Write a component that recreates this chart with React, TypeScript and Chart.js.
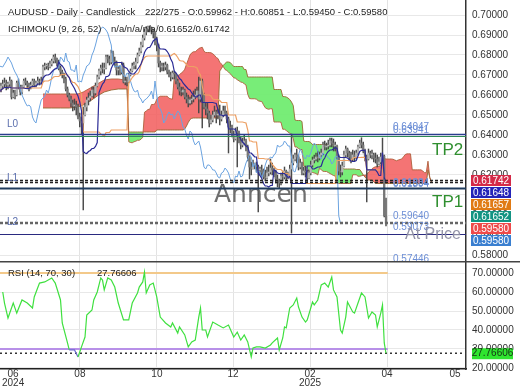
import React, { useEffect, useRef } from 'react';
import { Chart, registerables } from 'chart.js';
Chart.register(...registerables);

// ---------------- data ----------------
const firstOpen = 0.6645;
const closes = [
  0.6630, 0.6645, 0.6655, 0.6660, 0.6650, 0.6655, 0.6670, 0.6590, 0.6610, 0.6600,
  0.6660, 0.6640, 0.6615, 0.6640, 0.6670, 0.6660, 0.6650, 0.6640, 0.6650, 0.6670,
  0.6650, 0.6660, 0.6670, 0.6665, 0.6670, 0.6740, 0.6745, 0.6745, 0.6740, 0.6755,
  0.6770, 0.6790, 0.6775, 0.6760, 0.6735, 0.6715, 0.6700, 0.6680, 0.6630, 0.6600,
  0.6580, 0.6560, 0.6545, 0.6550, 0.6540, 0.6490, 0.6470, 0.6460, 0.6500, 0.6540,
  0.6575, 0.6585, 0.6595, 0.6625, 0.6610, 0.6645, 0.6690, 0.6720, 0.6735, 0.6730,
  0.6735, 0.6790, 0.6780, 0.6765, 0.6810, 0.6770, 0.6765, 0.6725, 0.6725, 0.6715,
  0.6750, 0.6665, 0.6670, 0.6665, 0.6700, 0.6720, 0.6745, 0.6750, 0.6765, 0.6800,
  0.6820, 0.6850, 0.6885, 0.6915, 0.6930, 0.6940, 0.6935, 0.6925, 0.6910, 0.6880,
  0.6850, 0.6760, 0.6740, 0.6745, 0.6740, 0.6750, 0.6715, 0.6700, 0.6690, 0.6710,
  0.6705, 0.6670, 0.6640, 0.6620, 0.6615, 0.6625, 0.6590, 0.6580, 0.6560, 0.6575,
  0.6580, 0.6590, 0.6600, 0.6620, 0.6580, 0.6670, 0.6600, 0.6540, 0.6530, 0.6510,
  0.6460, 0.6475, 0.6500, 0.6515, 0.6500, 0.6505, 0.6480, 0.6500, 0.6520, 0.6510,
  0.6480, 0.6440, 0.6430, 0.6400, 0.6380, 0.6420, 0.6410, 0.6370, 0.6350, 0.6360,
  0.6370, 0.6340, 0.6290, 0.6240, 0.6230, 0.6250, 0.6250, 0.6240, 0.6225, 0.6225,
  0.6210, 0.6190, 0.6185, 0.6210, 0.6215, 0.6235, 0.6225, 0.6210, 0.6180, 0.6170,
  0.6160, 0.6195, 0.6190, 0.6220, 0.6190, 0.6195, 0.6230, 0.6260, 0.6280, 0.6300,
  0.6290, 0.6240, 0.6260, 0.6210, 0.6220, 0.6215, 0.6185, 0.6210, 0.6250, 0.6275,
  0.6280, 0.6290, 0.6285, 0.6300, 0.6310, 0.6350, 0.6340, 0.6345, 0.6350, 0.6370,
  0.6360, 0.6345, 0.6345, 0.6290, 0.6220, 0.6215, 0.6245, 0.6300, 0.6330, 0.6310,
  0.6290, 0.6280, 0.6300, 0.6290, 0.6310, 0.6340, 0.6360, 0.6350, 0.6320, 0.6290,
  0.6280, 0.6310, 0.6300, 0.6300, 0.6285, 0.6280, 0.6255, 0.6265, 0.6290, 0.6295,
  0.59962, 0.5958,
];
const highs = [
  0.6650, 0.6660, 0.6675, 0.6685, 0.6675, 0.6665, 0.6690, 0.6675, 0.6625, 0.6625,
  0.6670, 0.6680, 0.6650, 0.6650, 0.6680, 0.6685, 0.6670, 0.6660, 0.6665, 0.6680,
  0.6680, 0.6670, 0.6690, 0.6680, 0.6690, 0.6750, 0.6760, 0.6755, 0.6760, 0.6770,
  0.6780, 0.6800, 0.6805, 0.6785, 0.6775, 0.6745, 0.6725, 0.6710, 0.6690, 0.6640,
  0.6610, 0.6595, 0.6575, 0.6580, 0.6570, 0.6555, 0.6510, 0.6490, 0.6540, 0.6560,
  0.6590, 0.6610, 0.6620, 0.6640, 0.6640, 0.6660, 0.6700, 0.6730, 0.6750, 0.6760,
  0.6760, 0.6800, 0.6800, 0.6795, 0.6825, 0.6820, 0.6790, 0.6770, 0.6745, 0.6745,
  0.6765, 0.6760, 0.6690, 0.6690, 0.6710, 0.6730, 0.6760, 0.6765, 0.6785, 0.6810,
  0.6835, 0.6865, 0.6900, 0.6930, 0.6942, 0.6945, 0.6944, 0.6940, 0.6930, 0.6915,
  0.6890, 0.6855, 0.6770, 0.6760, 0.6760, 0.6765, 0.6755, 0.6725, 0.6715, 0.6720,
  0.6720, 0.6710, 0.6680, 0.6660, 0.6640, 0.6640, 0.6630, 0.6610, 0.6600, 0.6590,
  0.6600, 0.6620, 0.6630, 0.6640, 0.6690, 0.6685, 0.6680, 0.6610, 0.6560, 0.6560,
  0.6520, 0.6500, 0.6520, 0.6545, 0.6525, 0.6530, 0.6550, 0.6520, 0.6545, 0.6545,
  0.6520, 0.6490, 0.6470, 0.6450, 0.6420, 0.6435, 0.6440, 0.6420, 0.6390, 0.6385,
  0.6400, 0.6380, 0.6350, 0.6300, 0.6265, 0.6275, 0.6260, 0.6265, 0.6250, 0.6240,
  0.6250, 0.6230, 0.6225, 0.6240, 0.6250, 0.6280, 0.6260, 0.6235, 0.6225, 0.6200,
  0.6180, 0.6210, 0.6220, 0.6240, 0.6225, 0.6215, 0.6250, 0.6405, 0.6300, 0.6310,
  0.6330, 0.6300, 0.6280, 0.6265, 0.6240, 0.6245, 0.6225, 0.6225, 0.6270, 0.6290,
  0.6300, 0.6310, 0.6320, 0.6315, 0.6330, 0.6365, 0.6370, 0.6360, 0.6375, 0.6385,
  0.6385, 0.6380, 0.6365, 0.6350, 0.6300, 0.6250, 0.6265, 0.6320, 0.6345, 0.6335,
  0.6320, 0.6315, 0.6325, 0.6320, 0.6325, 0.6350, 0.6375, 0.63864, 0.6365, 0.6330,
  0.6300, 0.6330, 0.6320, 0.6325, 0.6310, 0.6310, 0.6300, 0.6290, 0.6310, 0.63846,
  0.6300, 0.60851,
];
const lows = [
  0.6590, 0.6615, 0.6630, 0.6640, 0.6625, 0.6630, 0.6645, 0.6580, 0.6585, 0.6580,
  0.6595, 0.6630, 0.6600, 0.6605, 0.6635, 0.6650, 0.6630, 0.6620, 0.6630, 0.6640,
  0.6640, 0.6640, 0.6650, 0.6650, 0.6655, 0.6665, 0.6725, 0.6730, 0.6725, 0.6735,
  0.6745, 0.6760, 0.6760, 0.6745, 0.6725, 0.6700, 0.6685, 0.6660, 0.6620, 0.6590,
  0.6570, 0.6540, 0.6520, 0.6525, 0.6500, 0.6480, 0.6440, 0.6400, 0.6025, 0.6495,
  0.6520, 0.6550, 0.6570, 0.6590, 0.6585, 0.6600, 0.6640, 0.6680, 0.6700, 0.6710,
  0.6705, 0.6730, 0.6760, 0.6750, 0.6755, 0.6760, 0.6740, 0.6700, 0.6700, 0.6700,
  0.6705, 0.6660, 0.6650, 0.6645, 0.6660, 0.6695, 0.6715, 0.6730, 0.6730, 0.6760,
  0.6795, 0.6810, 0.6840, 0.6875, 0.6900, 0.6915, 0.6915, 0.6905, 0.6885, 0.6850,
  0.6820, 0.6740, 0.6715, 0.6720, 0.6720, 0.6725, 0.6705, 0.6690, 0.6670, 0.6680,
  0.6680, 0.6655, 0.6630, 0.6600, 0.6595, 0.6600, 0.6580, 0.6560, 0.6540, 0.6550,
  0.6555, 0.6565, 0.6580, 0.6590, 0.6510, 0.6565, 0.6435, 0.6530, 0.6500, 0.6480,
  0.6440, 0.6455, 0.6465, 0.6490, 0.6460, 0.6480, 0.6450, 0.6470, 0.6490, 0.6495,
  0.6460, 0.6310, 0.6410, 0.6390, 0.6365, 0.6375, 0.6240, 0.6360, 0.6330, 0.6340,
  0.6350, 0.6320, 0.6270, 0.6180, 0.6200, 0.6230, 0.6230, 0.6215, 0.6015, 0.6200,
  0.6190, 0.6180, 0.6170, 0.6180, 0.6195, 0.6205, 0.6200, 0.6190, 0.6160, 0.6140,
  0.6135, 0.6150, 0.6170, 0.6180, 0.6175, 0.6180, 0.6190, 0.5910, 0.6250, 0.6270,
  0.6260, 0.6225, 0.6230, 0.6200, 0.6200, 0.6190, 0.6160, 0.6180, 0.6200, 0.6240,
  0.6260, 0.6270, 0.6265, 0.6275, 0.6290, 0.6300, 0.6325, 0.6325, 0.6330, 0.6340,
  0.6340, 0.6320, 0.6320, 0.6280, 0.6200, 0.6190, 0.6200, 0.6240, 0.6290, 0.6290,
  0.6270, 0.6260, 0.6270, 0.6270, 0.6280, 0.6300, 0.6335, 0.6335, 0.6310, 0.6270,
  0.6065, 0.6275, 0.6285, 0.6280, 0.6265, 0.6260, 0.6240, 0.6250, 0.6255, 0.6270,
  0.5990, 0.5945,
];

// Ichimoku cloud before the in-window look-back is complete
const cloudLeftIdx = [25, 30, 35, 40, 45, 48, 52, 56, 60, 64, 68, 72, 73];
const spanALeft = [0.6605, 0.6605, 0.6605, 0.6605, 0.6605, 0.6615, 0.6635, 0.6655, 0.6675, 0.6680, 0.6680, 0.6675, 0.6675];
const spanBLeft = [0.6535, 0.6535, 0.6535, 0.6535, 0.6540, 0.6550, 0.6570, 0.6595, 0.6615, 0.6625, 0.6630, 0.6630, 0.6630];

// RSI(14) (bar index, value)
const rsiIdx = [2, 3, 5, 8, 10, 13, 16, 19, 20, 23, 26, 30, 32, 35, 36, 39, 40, 43, 45, 47, 49, 50, 53, 54, 56, 58, 59, 60, 62, 64, 66, 68, 71, 74, 76, 79, 80, 82, 83, 84, 86, 88, 90, 92, 95, 98, 99, 102, 103, 106, 108, 110, 112, 114, 115, 116, 118, 119, 122, 125, 128, 131, 134, 136, 138, 140, 142, 144, 145, 147, 149, 152, 155, 156, 159, 160, 162, 163, 164, 166, 168, 170, 171, 173, 175, 176, 179, 180, 182, 184, 186, 188, 190, 191, 193, 195, 196, 198, 199, 202, 203, 205, 207, 209, 211, 213, 215, 216, 218, 219, 220, 221];
const rsiVals = [60.0, 54.2, 46.3, 54.2, 48.9, 55.8, 54.2, 51.6, 57.4, 64.7, 65.3, 67.4, 64.7, 55.8, 43.7, 33.2, 29.5, 29.5, 25.8, 31.1, 36.3, 47.9, 50.5, 55.8, 60.0, 67.4, 66.3, 61.1, 67.4, 66.3, 62.6, 54.2, 45.3, 45.3, 54.2, 59.5, 62.6, 65.3, 70.5, 59.5, 63.7, 64.7, 57.4, 46.8, 43.7, 41.6, 43.7, 38.4, 41.6, 37.4, 31.1, 33.7, 34.7, 46.8, 51.6, 40.0, 40.0, 36.3, 44.2, 42.6, 41.1, 42.6, 36.3, 38.9, 34.7, 37.4, 33.7, 25.8, 30.5, 31.1, 31.1, 30.5, 32.1, 33.2, 35.8, 29.5, 35.8, 41.6, 41.1, 51.6, 53.2, 56.8, 52.1, 46.8, 44.2, 45.3, 54.7, 53.2, 55.8, 63.7, 64.7, 62.6, 67.9, 61.1, 57.4, 40.0, 38.4, 46.8, 54.7, 49.5, 48.9, 54.2, 59.5, 57.4, 46.3, 49.5, 47.9, 41.6, 48.9, 53.2, 33.2, 27.76606];

const monthTickIdx = [7.9, 46.1, 90.1, 133.6, 177.6, 221.6, 260.4];
const monthTickLabels: any[] = [['06', '2024'], '08', '10', '12', ['02', '2025'], '04', '05'];
const priceTicks = [0.58, 0.59, 0.60, 0.61, 0.62, 0.63, 0.64, 0.65, 0.66, 0.67, 0.68, 0.69, 0.70];
const rsiTicks = [20, 30, 40, 50, 60, 70];

const levelValues = [0.64047, 0.63941, 0.61742, 0.61648, 0.61335, 0.59640, 0.59580, 0.59073];
const levelTexts = ['0.64047', '0.63941', '0.61834', '0.61894', '0.59640', '0.59073', '0.57446'];
const boxTexts = ['0.61742', '0.61648', '0.61657', '0.61652', '0.59580', '0.59580'];
const rsiLast = '27.76606';

// ---------------- styles ----------------
const FONT = '"Liberation Sans", Arial, sans-serif';
const levelStyles = [
  { color: '#2b3c8e', width: 1.5, dash: [] },
  { color: '#2f8a55', width: 1.2, dash: [] },
  { color: '#222222', width: 1.5, dash: [3, 2] },
  { color: '#222222', width: 1.5, dash: [3, 2] },
  { color: '#1e3a5c', width: 2, dash: [] },
  { color: '#666666', width: 1.5, dash: [3, 2] },
  { color: '#666666', width: 1.5, dash: [3, 2] },
  { color: '#2a2a80', width: 1.2, dash: [] },
];
const levelTextPos = [[393, 127], [393, 130.5], [393, 183], [393, 184.5], [393, 216], [393, 227.5], [393, 259]];
const boxColors = ['#d42a48', '#2424b8', '#e07a14', '#139483', '#ef4a4a', '#3a7fd0'];
const boxY = [180.5, 192.5, 204.5, 216.5, 228.5, 240.5];
const CLOUD_UP = 'rgba(242,92,92,0.85)';   // span A above span B
const CLOUD_DOWN = 'rgba(108,236,108,0.92)'; // span B above span A

const PX_PER_BAR = 1.75;
const PLOT_W = 466;
const X_MIN = 0.43;
const X_MAX = X_MIN + PLOT_W / PX_PER_BAR;

function midRange(from: number, to: number) {
  let hi = -Infinity, lo = Infinity;
  for (let k = Math.max(0, from); k <= to; k++) {
    if (highs[k] > hi) hi = highs[k];
    if (lows[k] < lo) lo = lows[k];
  }
  return (hi + lo) / 2;
}

function gridColorX(ctx: any) {
  const v = ctx.tick ? ctx.tick.value : 0;
  return v < 20 || v > 250 ? 'rgba(0,0,0,0)' : '#e3e3e3';
}
function noPadY(ax: any) {
  ax.width = 54;
  ax.paddingTop = 0;
  ax.paddingBottom = 0;
}

export default function App() {
  const priceRef = useRef<HTMLCanvasElement>(null);
  const rsiRef = useRef<HTMLCanvasElement>(null);

  useEffect(() => {
    Chart.defaults.font.family = FONT;
    const N = closes.length;
    const opens = closes.map((c, i) => (i === 0 ? firstOpen : closes[i - 1]));
    const tenkan = closes.map((_, i) => midRange(i - 8, i));
    const kijun = closes.map((_, i) => midRange(i - 25, i));

    const spanA: any[] = cloudLeftIdx.map((x, k) => ({ x, y: spanALeft[k] }));
    const spanB: any[] = cloudLeftIdx.map((x, k) => ({ x, y: spanBLeft[k] }));
    for (let i = 74; i <= N - 1 + 26; i++) {
      spanA.push({ x: i, y: (tenkan[i - 26] + kijun[i - 26]) / 2 });
      spanB.push({ x: i, y: midRange(i - 77, i - 26) });
    }
    const wicks = closes.map((_, i) => ({ x: i, y: [lows[i], highs[i]] }));
    const bodies = closes.map((c, i) => ({ x: i, y: [opens[i], c] }));
    const bodyColors = closes.map((c, i) => (c >= opens[i] ? '#b4b4b4' : '#767676'));
    const chikou = closes.slice(26).map((c, k) => ({ x: k, y: c }));
    const tenkanPts = tenkan.map((y, i) => ({ x: i, y }));
    const kijunPts = kijun.map((y, i) => ({ x: i, y }));

    const cloudPlugin = {
      id: 'cloud',
      beforeDatasetsDraw(chart: any) {
        const { ctx, chartArea, scales } = chart;
        const xs = scales.x, ys = scales.y;
        ctx.save();
        ctx.beginPath();
        ctx.rect(chartArea.left, chartArea.top, chartArea.right - chartArea.left, chartArea.bottom - chartArea.top);
        ctx.clip();
        const P = spanA.map((p: any, k: number) => ({
          x: xs.getPixelForValue(p.x), a: ys.getPixelForValue(p.y), b: ys.getPixelForValue(spanB[k].y), d: p.y - spanB[k].y,
        }));
        const flush = (run: any[], up: boolean) => {
          if (run.length < 2) return;
          ctx.beginPath();
          ctx.moveTo(run[0].x, run[0].a);
          for (let k = 1; k < run.length; k++) ctx.lineTo(run[k].x, run[k].a);
          for (let k = run.length - 1; k >= 0; k--) ctx.lineTo(run[k].x, run[k].b);
          ctx.closePath();
          ctx.fillStyle = up ? CLOUD_UP : CLOUD_DOWN;
          ctx.fill();
        };
        let run: any[] = [P[0]];
        let up = P[0].d >= 0;
        for (let k = 1; k < P.length; k++) {
          const p = P[k];
          const pu = p.d >= 0;
          if (pu === up || p.d === 0) {
            run.push(p);
          } else {
            const q = P[k - 1];
            const t = q.d / (q.d - p.d);
            const m = { x: q.x + t * (p.x - q.x), a: q.a + t * (p.a - q.a), b: q.a + t * (p.a - q.a), d: 0 };
            run.push(m);
            flush(run, up);
            run = [m, p];
            up = pu;
          }
        }
        flush(run, up);
        ctx.restore();
      },
    };

    const priceOverlay = {
      id: 'priceOverlay',
      afterDatasetsDraw(chart: any) {
        const { ctx, chartArea, scales } = chart;
        const y = scales.y;
        ctx.save();
        ctx.beginPath();
        ctx.rect(chartArea.left, chartArea.top, chartArea.right - chartArea.left, chartArea.bottom - chartArea.top);
        ctx.clip();
        ctx.font = '25px "DejaVu Sans", sans-serif';
        ctx.fillStyle = 'rgba(95,95,95,0.9)';
        ctx.textBaseline = 'alphabetic';
        ctx.textAlign = 'left';
        ctx.fillText('Anncen', 214, 202);
        levelValues.forEach((v, k) => {
          const st = levelStyles[k];
          const py = Math.round(y.getPixelForValue(v)) + 0.5;
          ctx.beginPath();
          ctx.setLineDash(st.dash);
          ctx.strokeStyle = st.color;
          ctx.lineWidth = st.width;
          ctx.moveTo(chartArea.left, py);
          ctx.lineTo(chartArea.right, py);
          ctx.stroke();
        });
        ctx.setLineDash([]);
        ctx.textBaseline = 'middle';
        ctx.font = '10px ' + FONT;
        ctx.fillStyle = '#6d8fd6';
        levelTexts.forEach((t, k) => ctx.fillText(t, levelTextPos[k][0], levelTextPos[k][1]));
        ctx.fillStyle = '#5b6fae';
        ctx.fillText('L0', 7, 124);
        ctx.fillText('L1', 7, 178.5);
        ctx.fillText('L2', 7, 222.5);
        ctx.font = '17px ' + FONT;
        ctx.fillStyle = '#2f8f2f';
        ctx.fillText('TP2', 432, 150);
        ctx.fillText('TP1', 432, 202);
        ctx.font = '16px ' + FONT;
        ctx.fillStyle = 'rgba(140,140,162,0.95)';
        ctx.fillText('At Price', 405, 235);
        ctx.restore();
      },
      afterDraw(chart: any) {
        const { ctx } = chart;
        ctx.save();
        ctx.textBaseline = 'middle';
        ctx.textAlign = 'left';
        ctx.fillStyle = '#222';
        ctx.font = '9.5px ' + FONT;
        ctx.fillText('AUDUSD - Daily - Candlestick', 8, 12.5);
        ctx.fillText('222/275 - O:0.59962 - H:0.60851 - L:0.59450 - C:0.59580', 145, 12.5);
        ctx.fillText('ICHIMOKU (9, 26, 52)', 8, 29.5);
        ctx.fillText('n/a/n/a/n/a/0.61652/0.61742', 111, 29.5);
        ctx.font = '10px ' + FONT;
        boxTexts.forEach((t, k) => {
          ctx.fillStyle = boxColors[k];
          ctx.fillRect(471, boxY[k] - 5.5, 40, 11);
          ctx.fillStyle = '#ffffff';
          ctx.textAlign = 'center';
          ctx.fillText(t, 491, boxY[k] + 0.5);
        });
        ctx.restore();
      },
    };

    const priceChart = new Chart(priceRef.current as any, {
      type: 'bar',
      data: {
        datasets: [
          { type: 'line', data: spanA, borderColor: 'rgba(175,95,60,0.9)', borderWidth: 1, pointRadius: 0, fill: false, order: 10 } as any,
          { type: 'line', data: spanB, borderColor: 'rgba(150,105,50,0.9)', borderWidth: 1, pointRadius: 0, fill: false, order: 11 } as any,
          { type: 'bar', data: wicks, backgroundColor: '#4a4a4a', barThickness: 0.8, grouped: false, order: 5 } as any,
          { type: 'bar', data: bodies, backgroundColor: bodyColors, barThickness: 1.6, grouped: false, minBarLength: 1, order: 4 } as any,
          { type: 'line', data: chikou, borderColor: '#6ba3e0', borderWidth: 1, pointRadius: 0, fill: false, order: 3 } as any,
          { type: 'line', data: kijunPts, borderColor: '#eda064', borderWidth: 1.2, pointRadius: 0, fill: false, order: 2 } as any,
          { type: 'line', data: tenkanPts, borderColor: '#2c2c96', borderWidth: 1.2, pointRadius: 0, fill: false, order: 1 } as any,
        ],
      },
      options: {
        animation: false,
        responsive: false,
        maintainAspectRatio: false,
        devicePixelRatio: 1,
        events: [],
        layout: { padding: 0 },
        plugins: { legend: { display: false }, tooltip: { enabled: false } },
        scales: {
          x: {
            type: 'linear', min: X_MIN, max: X_MAX, offset: false,
            afterBuildTicks: (ax: any) => { ax.ticks = monthTickIdx.map((v) => ({ value: v })); },
            afterFit: (ax: any) => { ax.height = 0; ax.paddingLeft = 0; ax.paddingRight = 0; },
            ticks: { display: false },
            grid: { color: gridColorX, drawTicks: false, offset: false },
            border: { display: false },
          },
          y: {
            position: 'right', min: 0.577, max: 0.7075,
            afterBuildTicks: (ax: any) => { ax.ticks = priceTicks.map((v) => ({ value: v })); },
            afterFit: noPadY,
            ticks: { callback: (v: any) => Number(v).toFixed(5), padding: 6, color: '#333', font: { size: 10 } },
            grid: { color: '#e8e8e8', drawTicks: false },
            border: { display: true, color: '#333', width: 1.5 },
          },
        },
      } as any,
      plugins: [cloudPlugin, priceOverlay],
    });

    const rsiOverlay = {
      id: 'rsiOverlay',
      beforeDatasetsDraw(chart: any) {
        const { ctx, chartArea, scales } = chart;
        const x = scales.x, y = scales.y;
        const xe = x.getPixelForValue(222);
        ctx.save();
        ctx.lineWidth = 2;
        ctx.strokeStyle = '#f3c98a';
        ctx.beginPath();
        ctx.moveTo(chartArea.left, y.getPixelForValue(70));
        ctx.lineTo(xe, y.getPixelForValue(70));
        ctx.stroke();
        ctx.strokeStyle = '#b890e8';
        ctx.beginPath();
        ctx.moveTo(chartArea.left, y.getPixelForValue(30));
        ctx.lineTo(xe, y.getPixelForValue(30));
        ctx.stroke();
        ctx.setLineDash([2, 3]);
        ctx.lineWidth = 1.5;
        ctx.strokeStyle = '#333';
        const yl = y.getPixelForValue(27.76606);
        ctx.beginPath();
        ctx.moveTo(chartArea.left, yl);
        ctx.lineTo(chartArea.right, yl);
        ctx.stroke();
        ctx.restore();
      },
      afterDraw(chart: any) {
        const { ctx, scales } = chart;
        const y = scales.y;
        ctx.save();
        ctx.strokeStyle = '#444';
        ctx.lineWidth = 1.5;
        ctx.beginPath();
        ctx.moveTo(0, 0.75);
        ctx.lineTo(520, 0.75);
        ctx.stroke();
        ctx.textBaseline = 'middle';
        ctx.textAlign = 'left';
        ctx.fillStyle = '#222';
        ctx.font = '9.5px ' + FONT;
        ctx.fillText('RSI (14, 70, 30)', 8, 12);
        ctx.fillText(rsiLast, 97, 12);
        const yl = y.getPixelForValue(27.76606);
        ctx.fillStyle = '#2fe52f';
        ctx.fillRect(472, yl - 5, 41, 11);
        ctx.fillStyle = '#143014';
        ctx.font = '10px ' + FONT;
        ctx.textAlign = 'center';
        ctx.fillText(rsiLast, 492.5, yl + 0.5);
        ctx.restore();
      },
    };

    const rsiChart = new Chart(rsiRef.current as any, {
      type: 'line',
      data: {
        datasets: [
          {
            data: rsiIdx.map((x, k) => ({ x, y: rsiVals[k] })),
            borderColor: '#3fe03f',
            borderWidth: 1.2,
            pointRadius: 0,
            fill: false,
            segment: {
              borderColor: (c: any) => (c.p0.parsed.y < 30 && c.p1.parsed.y < 30 ? '#6b6bd0' : undefined),
            },
          } as any,
        ],
      },
      options: {
        animation: false,
        responsive: false,
        maintainAspectRatio: false,
        devicePixelRatio: 1,
        events: [],
        layout: { padding: 0 },
        plugins: { legend: { display: false }, tooltip: { enabled: false } },
        scales: {
          x: {
            type: 'linear', min: X_MIN, max: X_MAX, offset: false,
            afterBuildTicks: (ax: any) => { ax.ticks = monthTickIdx.map((v) => ({ value: v })); },
            afterFit: (ax: any) => { ax.height = 21; ax.paddingLeft = 0; ax.paddingRight = 0; },
            ticks: {
              autoSkip: false, maxRotation: 0, padding: 1, color: '#333',
              font: { size: 10, lineHeight: 0.85 },
              callback: (_v: any, idx: number) => monthTickLabels[idx],
            },
            grid: { color: gridColorX, drawTicks: false, offset: false },
            border: { display: true, color: '#222', width: 1.5 },
          },
          y: {
            position: 'right', min: 19.47, max: 76.32,
            afterBuildTicks: (ax: any) => { ax.ticks = rsiTicks.map((v) => ({ value: v })); },
            afterFit: noPadY,
            ticks: { callback: (v: any) => Number(v).toFixed(5), padding: 6, color: '#333', font: { size: 10 } },
            grid: { color: '#e8e8e8', drawTicks: false },
            border: { display: true, color: '#333', width: 1.5 },
          },
        },
      } as any,
      plugins: [rsiOverlay],
    });

    return () => {
      priceChart.destroy();
      rsiChart.destroy();
    };
  }, []);

  return (
    <div style={{ position: 'fixed', left: 0, top: 0, width: 520, height: 390, background: '#ffffff' }}>
      <canvas ref={priceRef} width={520} height={261} style={{ display: 'block', width: 520, height: 261 }} />
      <canvas ref={rsiRef} width={520} height={129} style={{ display: 'block', width: 520, height: 129 }} />
    </div>
  );
}
